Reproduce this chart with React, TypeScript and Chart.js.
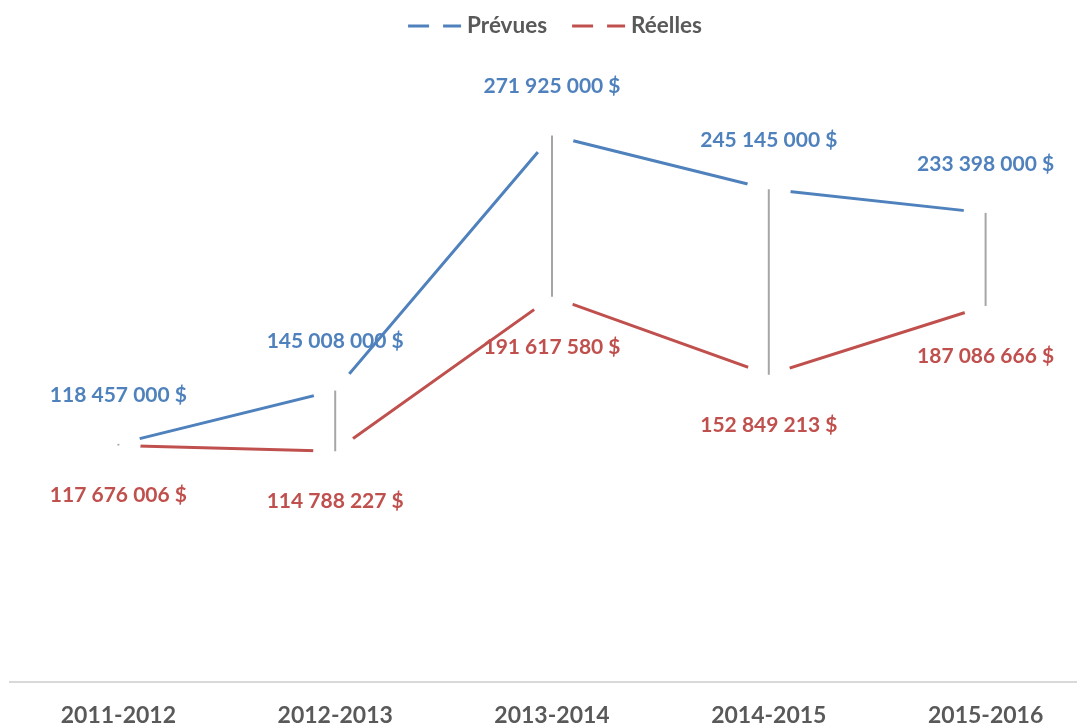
import { useEffect, useRef } from 'react';
import { Chart, registerables } from 'chart.js';

Chart.register(...registerables);

const categories = ['2011-2012', '2012-2013', '2013-2014', '2014-2015', '2015-2016'];
const seriesNames = ['Prévues', 'Réelles'];
const planned = [118457000, 145008000, 271925000, 245145000, 233398000];
const actual = [117676006, 114788227, 191617580, 152849213, 187086666];
const Y_MIN = 0;
const Y_MAX = 300000000;

const BLUE = '#4F81BD';
const RED = '#C0504D';
const GREY_TEXT = '#595959';
const FONT = 'Lato, "Open Sans", sans-serif';
const CANVAS_W = 1110;
const CANVAS_H = 726;

function fmt(v: number): string {
  return String(v).replace(/\B(?=(\d{3})+(?!\d))/g, ' ') + ' $';
}

const highLowPlugin = {
  id: 'highLow',
  afterDatasetsDraw(chart: any) {
    const m0 = chart.getDatasetMeta(0);
    const m1 = chart.getDatasetMeta(1);
    const ctx = chart.ctx;
    ctx.save();
    ctx.strokeStyle = '#A6A6A6';
    ctx.lineWidth = 2;
    for (let i = 0; i < m0.data.length; i++) {
      const a = m0.data[i];
      const b = m1.data[i];
      ctx.beginPath();
      ctx.moveTo(a.x, a.y);
      ctx.lineTo(b.x, b.y);
      ctx.stroke();
    }
    ctx.restore();
  },
};

const labelPlugin = {
  id: 'valueLabels',
  afterDatasetsDraw(chart: any) {
    const ctx = chart.ctx;
    ctx.save();
    ctx.font = `bold 21px ${FONT}`;
    ctx.textAlign = 'center';
    ctx.textBaseline = 'middle';
    chart.data.datasets.forEach((ds: any, di: number) => {
      const meta = chart.getDatasetMeta(di);
      ctx.fillStyle = ds.borderColor;
      meta.data.forEach((pt: any, i: number) => {
        const off = di === 0 ? -49 : 50;
        ctx.fillText(fmt(ds.data[i]), pt.x, pt.y + off);
      });
    });
    ctx.restore();
  },
};

const legendPlugin = {
  id: 'dashLegend',
  afterDraw(chart: any) {
    const ctx = chart.ctx;
    ctx.save();
    ctx.font = `bold 22.5px ${FONT}`;
    ctx.textBaseline = 'middle';
    const iconW = 53;
    const gapIcon = 6;
    const gapItem = 25;
    const items = chart.data.datasets.map((ds: any) => ({
      text: ds.label,
      color: ds.borderColor,
      w: ctx.measureText(ds.label).width,
    }));
    let total = 0;
    items.forEach((it: any, i: number) => {
      total += iconW + gapIcon + it.w + (i < items.length - 1 ? gapItem : 0);
    });
    let x = chart.width / 2 - total / 2;
    const y = 26;
    items.forEach((it: any) => {
      ctx.strokeStyle = it.color;
      ctx.lineWidth = 3;
      ctx.setLineDash([21, 14]);
      ctx.beginPath();
      ctx.moveTo(x, y);
      ctx.lineTo(x + iconW, y);
      ctx.stroke();
      ctx.setLineDash([]);
      ctx.fillStyle = GREY_TEXT;
      ctx.textAlign = 'left';
      ctx.fillText(it.text, x + iconW + gapIcon, y);
      x += iconW + gapIcon + it.w + gapItem;
    });
    ctx.restore();
  },
};

export default function App() {
  const ref = useRef<HTMLCanvasElement | null>(null);

  useEffect(() => {
    if (!ref.current) return;
    const chart = new Chart(ref.current, {
      type: 'line',
      data: {
        labels: categories,
        datasets: [
          {
            label: seriesNames[0],
            data: planned,
            borderColor: BLUE,
            backgroundColor: BLUE,
            borderWidth: 3,
            pointRadius: 22,
            pointHoverRadius: 22,
            pointBackgroundColor: '#ffffff',
            pointBorderWidth: 0,
            pointBorderColor: 'rgba(0,0,0,0)',
            tension: 0,
            fill: false,
          },
          {
            label: seriesNames[1],
            data: actual,
            borderColor: RED,
            backgroundColor: RED,
            borderWidth: 3,
            pointRadius: 22,
            pointHoverRadius: 22,
            pointBackgroundColor: '#ffffff',
            pointBorderWidth: 0,
            pointBorderColor: 'rgba(0,0,0,0)',
            tension: 0,
            fill: false,
          },
        ],
      },
      options: {
        responsive: false,
        animation: false,
        events: [],
        layout: { autoPadding: false, padding: { left: 10, right: 16, top: 79, bottom: 0 } },
        plugins: {
          legend: { display: false },
          tooltip: { enabled: false },
        },
        scales: {
          x: {
            type: 'category',
            offset: true,
            grid: { display: false, drawTicks: false },
            border: { display: true, color: '#D9D9D9', width: 2 },
            afterFit(scale: any) {
              scale.height = 44;
              scale.paddingLeft = 0;
              scale.paddingRight = 0;
            },
            ticks: {
              color: GREY_TEXT,
              font: { family: FONT, size: 23, weight: 'bold' },
              padding: 20,
              maxRotation: 0,
              autoSkip: false,
            },
          },
          y: {
            display: false,
            min: Y_MIN,
            max: Y_MAX,
          },
        },
      },
      plugins: [highLowPlugin, labelPlugin, legendPlugin],
    });
    return () => chart.destroy();
  }, []);

  return (
    <div
      style={{
        position: 'fixed',
        left: 0,
        top: 0,
        width: 1077,
        height: 726,
        overflow: 'hidden',
        background: '#ffffff',
      }}
    >
      <canvas
        ref={ref}
        width={CANVAS_W}
        height={CANVAS_H}
        style={{ width: CANVAS_W, height: CANVAS_H, display: 'block' }}
      />
    </div>
  );
}
